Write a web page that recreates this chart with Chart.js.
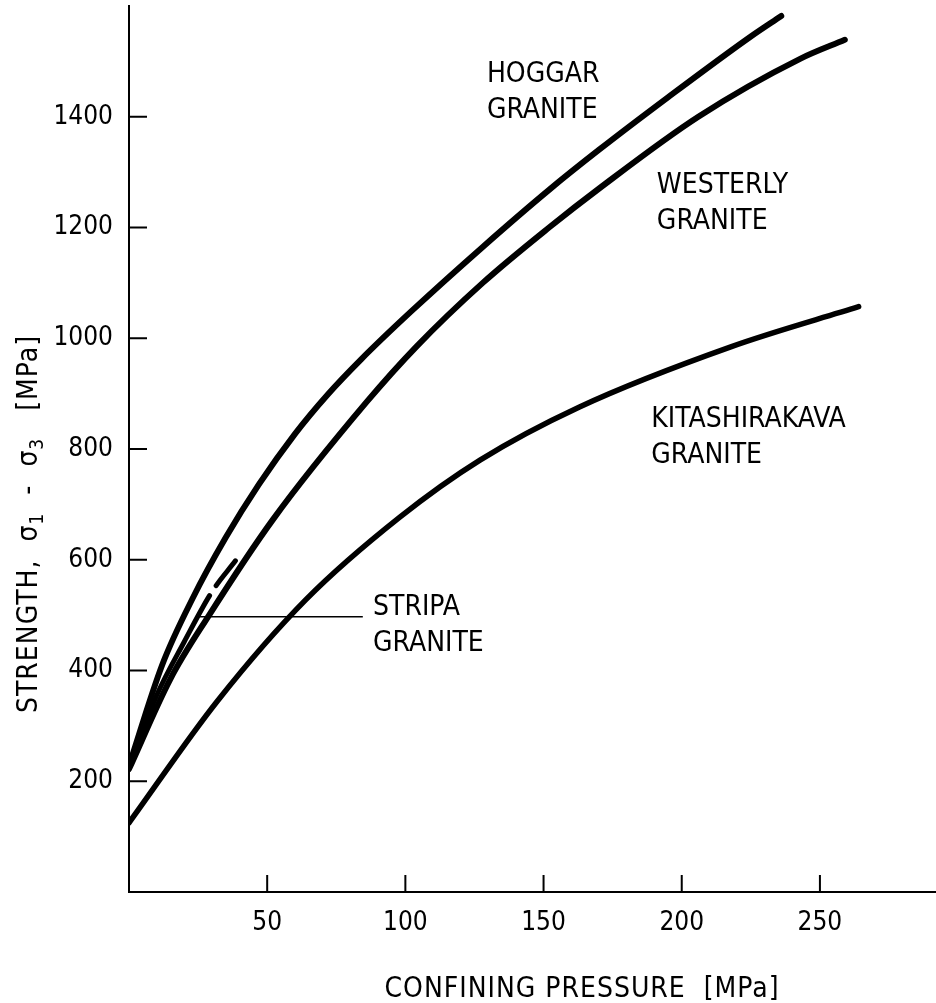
<!DOCTYPE html>
<html>
<head>
<meta charset="utf-8">
<script src="https://cdn.jsdelivr.net/npm/chart.js@4.4.1/dist/chart.umd.min.js"></script>
<style>
  html, body { margin: 0; padding: 0; background: #fff; }
  #wrap { width: 936px; height: 1003px; position: relative; }
</style>
</head>
<body>
<div id="wrap"><canvas id="chart"></canvas></div>
<script>
const FONT = '"Liberation Sans Narrow", "DejaVu Sans Condensed", "Liberation Sans", sans-serif';

// confining pressure sigma3 [MPa] vs strength sigma1 - sigma3 [MPa]
const hoggarX = [0, 12, 23, 35, 47, 60, 72, 84, 102, 128, 152, 170, 195, 225, 236];
const hoggarY = [228, 410, 530, 640, 736, 827, 899, 962, 1048, 1165, 1268, 1340, 1435, 1545, 1582];

const westerlyX = [0, 15, 29, 52, 86, 104, 128, 152, 170, 206, 243, 259];
const westerlyY = [222, 385, 500, 672, 885, 985, 1100, 1200, 1270, 1400, 1505, 1539];

const kitaX = [0, 32, 64, 98, 127, 163, 218, 264];
const kitaY = [125, 345, 528, 677, 780, 876, 985, 1057];

const stripaX = [0, 10, 20, 30, 38.5];
const stripaY = [225, 355, 452, 542, 598];

// leader from the STRIPA label back to its curve
const leaderX = [25.7, 84.6];
const leaderY = [497, 497];

const xTicks = [50, 100, 150, 200, 250];
const yTicks = [200, 400, 600, 800, 1000, 1200, 1400];

const curveLabels = [
    ['HOGGAR', 'GRANITE'],
    ['WESTERLY', 'GRANITE'],
    ['KITASHIRAKAVA', 'GRANITE'],
    ['STRIPA', 'GRANITE']
];
// where each label starts (data units: pressure, strength at first baseline)
const labelAnchorX = [129.5, 191, 189, 88.3];
const labelAnchorY = [1463, 1262, 840, 500];

const toPoints = (xs, ys) => xs.map((x, i) => ({ x: x, y: ys[i] }));

const curveStyle = {
    showLine: true,
    pointRadius: 0,
    borderColor: '#000',
    borderWidth: 6,
    borderCapStyle: 'round',
    borderJoinStyle: 'round',
    cubicInterpolationMode: 'monotone',
    fill: false
};

// tick marks point into the plot, so draw them ourselves
const innerTicks = {
    id: 'innerTicks',
    afterDraw(chart) {
        const { ctx, chartArea, scales } = chart;
        ctx.save();
        ctx.strokeStyle = '#000';
        ctx.lineWidth = 2;
        ctx.beginPath();
        xTicks.forEach(v => {
            const px = scales.x.getPixelForValue(v);
            ctx.moveTo(px, chartArea.bottom);
            ctx.lineTo(px, chartArea.bottom - 17);
        });
        yTicks.forEach(v => {
            const py = scales.y.getPixelForValue(v);
            ctx.moveTo(chartArea.left, py);
            ctx.lineTo(chartArea.left + 18, py);
        });
        ctx.stroke();
        ctx.restore();
    }
};

const textLayer = {
    id: 'textLayer',
    afterDraw(chart) {
        const { ctx, scales } = chart;
        ctx.save();
        ctx.fillStyle = '#000';
        ctx.textBaseline = 'alphabetic';

        // curve labels
        ctx.font = '28px ' + FONT;
        ctx.textAlign = 'left';
        curveLabels.forEach((lines, i) => {
            const px = scales.x.getPixelForValue(labelAnchorX[i]);
            const py = scales.y.getPixelForValue(labelAnchorY[i]);
            lines.forEach((line, j) => ctx.fillText(line, px, py + j * 36));
        });

        // x axis title
        ctx.textAlign = 'center';
        ctx.letterSpacing = '1px';
        ctx.fillText('CONFINING PRESSURE  [MPa]', 582, 997);

        // y axis title with subscripts, rotated
        const big = '28px ' + FONT;
        const small = '19px ' + FONT;
        const parts = [
            ['STRENGTH,  \u03C3', big, 0],
            ['1', small, 6],
            ['  -  \u03C3', big, 0],
            ['3', small, 6],
            ['   [MPa]', big, 0]
        ];
        let total = 0;
        parts.forEach(p => { ctx.font = p[1]; total += ctx.measureText(p[0]).width; });
        ctx.translate(37, 524 + total / 2);
        ctx.rotate(-Math.PI / 2);
        ctx.textAlign = 'left';
        let cx = 0;
        parts.forEach(p => {
            ctx.font = p[1];
            ctx.fillText(p[0], cx, p[2]);
            cx += ctx.measureText(p[0]).width;
        });
        ctx.restore();
    }
};

new Chart(document.getElementById('chart'), {
    type: 'scatter',
    data: {
        datasets: [
            Object.assign({ label: 'Hoggar granite', data: toPoints(hoggarX, hoggarY) }, curveStyle),
            Object.assign({ label: 'Westerly granite', data: toPoints(westerlyX, westerlyY) }, curveStyle),
            Object.assign({ label: 'Kitashirakava granite', data: toPoints(kitaX, kitaY) }, curveStyle, { borderWidth: 5.5 }),
            Object.assign({ label: 'Stripa granite', data: toPoints(stripaX, stripaY) }, curveStyle, { borderWidth: 5, borderDash: [190, 12] }),
            { label: 'leader', data: toPoints(leaderX, leaderY), showLine: true, pointRadius: 0, borderColor: '#000', borderWidth: 1.5, tension: 0 }
        ]
    },
    options: {
        responsive: true,
        maintainAspectRatio: false,
        animation: false,
        events: [],
        layout: { padding: { top: 6, left: 0, right: 0, bottom: 0 } },
        plugins: {
            legend: { display: false },
            tooltip: { enabled: false }
        },
        scales: {
            x: {
                type: 'linear',
                min: 0,
                max: 292,
                afterBuildTicks: scale => { scale.ticks = xTicks.map(v => ({ value: v })); },
                afterFit: scale => {
                    scale.height = 111;
                    scale.paddingLeft = 0;
                    scale.paddingRight = 0;
                },
                grid: { display: false, drawTicks: false },
                border: { display: true, color: '#000', width: 2 },
                ticks: { color: '#000', padding: 16, maxRotation: 0, font: { family: FONT, size: 26 }, callback: v => String(v) }
            },
            y: {
                type: 'linear',
                min: 0,
                max: 1600,
                afterBuildTicks: scale => { scale.ticks = yTicks.map(v => ({ value: v })); },
                afterFit: scale => {
                    scale.width = 129;
                    scale.paddingTop = 0;
                    scale.paddingBottom = 0;
                },
                grid: { display: false, drawTicks: false },
                border: { display: true, color: '#000', width: 2 },
                ticks: { color: '#000', padding: 16, font: { family: FONT, size: 26 }, callback: v => String(v) }
            }
        }
    },
    plugins: [innerTicks, textLayer]
});
</script>
</body>
</html>
